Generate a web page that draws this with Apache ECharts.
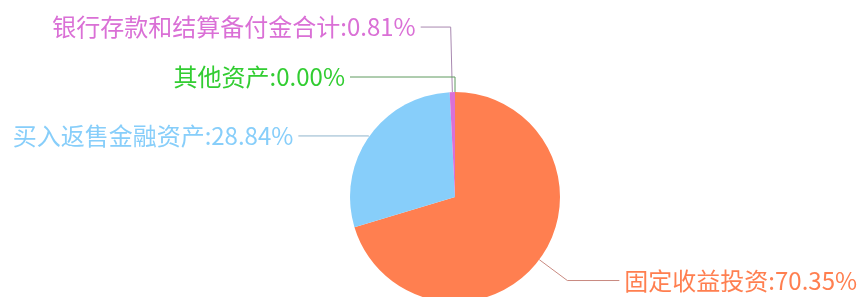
<!DOCTYPE html>
<html>
<head>
<meta charset="utf-8">
<script src="https://cdn.jsdelivr.net/npm/echarts@6/dist/echarts.min.js"></script>
<style>
  html, body { margin: 0; padding: 0; background: #fff; }
  #main { width: 864px; height: 297px; }
</style>
</head>
<body>
<div id="main"></div>
<script>
// 资产配置
var names = ["固定收益投资", "买入返售金融资产", "银行存款和结算备付金合计", "其他资产"];
var values = [70.35, 28.84, 0.81, 0.0];
var colors = ["#ff7f50", "#87cefa", "#da70d6", "#32cd32"];
var lineColors = ["#c98a80", "#8fb4cc", "#a888b0", "#5e9a5e"];
// label line length / length2 per slice
var lineLen = [35, 1, 65, 15];
var lineLen2 = [52, 70, 30, 105];

var myChart = echarts.init(document.getElementById("main"));
var option;

option = {
  animation: false,
  color: colors,
  series: [
    {
      type: "pie",
      center: [455, 197],
      radius: [0, 105],
      startAngle: 90,
      label: {
        fontSize: 24,
        fontFamily: "Noto Sans CJK SC",
        color: "inherit",
        overflow: "none",
        formatter: function (p) {
          return p.name + ":" + p.value.toFixed(2) + "%";
        },
      },
      labelLine: {
        lineStyle: { width: 1 },
      },
      data: names.map(function (n, i) {
        return {
          name: n,
          value: values[i],
          labelLine: {
            length: lineLen[i],
            length2: lineLen2[i],
            lineStyle: { color: lineColors[i] },
          },
        };
      }),
    },
  ],
};

option && myChart.setOption(option);
</script>
</body>
</html>
